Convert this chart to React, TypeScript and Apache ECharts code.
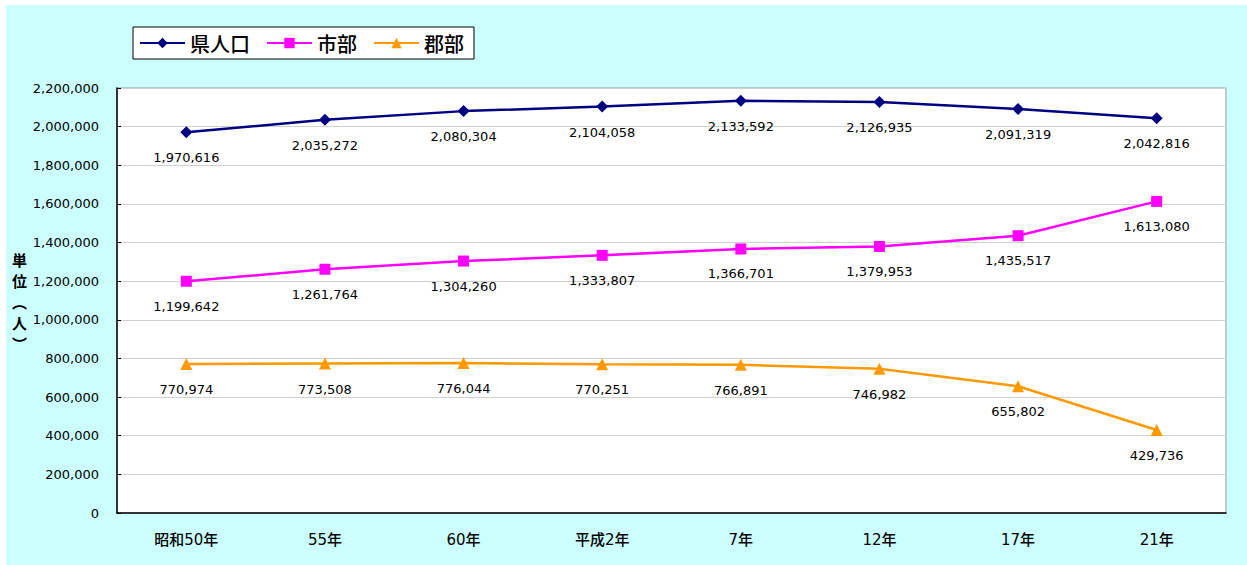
import React, { useEffect, useRef } from "react";
import * as echarts from "echarts";

const categories = ["昭和50年", "55年", "60年", "平成2年", "7年", "12年", "17年", "21年"];
const prefecture = [1970616, 2035272, 2080304, 2104058, 2133592, 2126935, 2091319, 2042816];
const cities = [1199642, 1261764, 1304260, 1333807, 1366701, 1379953, 1435517, 1613080];
const counties = [770974, 773508, 776044, 770251, 766891, 746982, 655802, 429736];
const seriesNames = ["県人口", "市部", "郡部"];

const FONT = "'Noto Sans CJK JP', 'Noto Sans', sans-serif";
const NUMFONT = "'DejaVu Sans', 'Noto Sans CJK JP', sans-serif";

export default function App() {
  const ref = useRef<HTMLDivElement>(null);
  useEffect(() => {
    if (!ref.current) return;
    const chart = echarts.init(ref.current, null, { renderer: "svg" });
    const fmt = (v: number) => v.toLocaleString("en-US");
    const label = {
      show: true,
      position: "bottom",
      distance: 13,
      color: "#000",
      fontSize: 13,
      fontFamily: NUMFONT,
      formatter: (p: any) => fmt(p.value),
    };
    chart.setOption({
      animation: false,
      backgroundColor: "#CCFFFF",
      legend: {
        left: 127,
        top: 22,
        data: seriesNames,
        backgroundColor: "#fff",
        borderColor: "#000",
        borderWidth: 1,
        padding: [6, 10, 6, 6],
        itemWidth: 45,
        itemHeight: 13,
        itemGap: 16,
        textStyle: { fontSize: 20, color: "#000", fontFamily: FONT, fontWeight: 500 },
      },
      grid: {
        left: 111,
        top: 83,
        right: 21,
        bottom: 52,
        show: true,
        backgroundColor: "#fff",
        borderColor: "#999",
        borderWidth: 1,
      },
      xAxis: {
        type: "category",
        data: categories,
        boundaryGap: true,
        axisLine: { lineStyle: { color: "#000", width: 1.5 } },
        axisTick: { inside: true, length: 5, lineStyle: { color: "#000" } },
        axisLabel: { margin: 19, fontSize: 15, color: "#000", fontFamily: NUMFONT, fontWeight: 500 },
      },
      yAxis: {
        type: "value",
        min: 0,
        max: 2200000,
        interval: 200000,
        axisLine: { show: true, lineStyle: { color: "#000", width: 1.5 } },
        axisTick: { show: true, inside: true, length: 4, lineStyle: { color: "#000" } },
        splitLine: { lineStyle: { color: "#d0d0d0" } },
        axisLabel: { margin: 18, fontSize: 13, color: "#000", fontFamily: NUMFONT, formatter: (v: number) => fmt(v) },
      },
      graphic: [
        {
          type: "text",
          left: 6,
          top: 244,
          style: {
            text: "単\n位\n︵\n人\n︶",
            fontSize: 15,
            lineHeight: 21,
            fontWeight: "bold",
            fill: "#000",
            fontFamily: FONT,
            align: "center",
          },
        },
      ],
      series: [
        {
          name: seriesNames[0],
          type: "line",
          data: prefecture,
          symbol: "diamond",
          symbolSize: 12,
          lineStyle: { color: "#000080", width: 2.5 },
          itemStyle: { color: "#000080" },
          label,
        },
        {
          name: seriesNames[1],
          type: "line",
          data: cities,
          symbol: "rect",
          symbolSize: 11,
          lineStyle: { color: "#FF00FF", width: 2.5 },
          itemStyle: { color: "#FF00FF" },
          label,
        },
        {
          name: seriesNames[2],
          type: "line",
          data: counties,
          symbol: "triangle",
          symbolSize: 12,
          lineStyle: { color: "#FF9900", width: 2.5 },
          itemStyle: { color: "#FF9900" },
          label,
        },
      ],
    });
    return () => chart.dispose();
  }, []);
  return (
    <div
      ref={ref}
      style={{ position: "absolute", left: 6, top: 5, width: 1241, height: 560 }}
    />
  );
}
